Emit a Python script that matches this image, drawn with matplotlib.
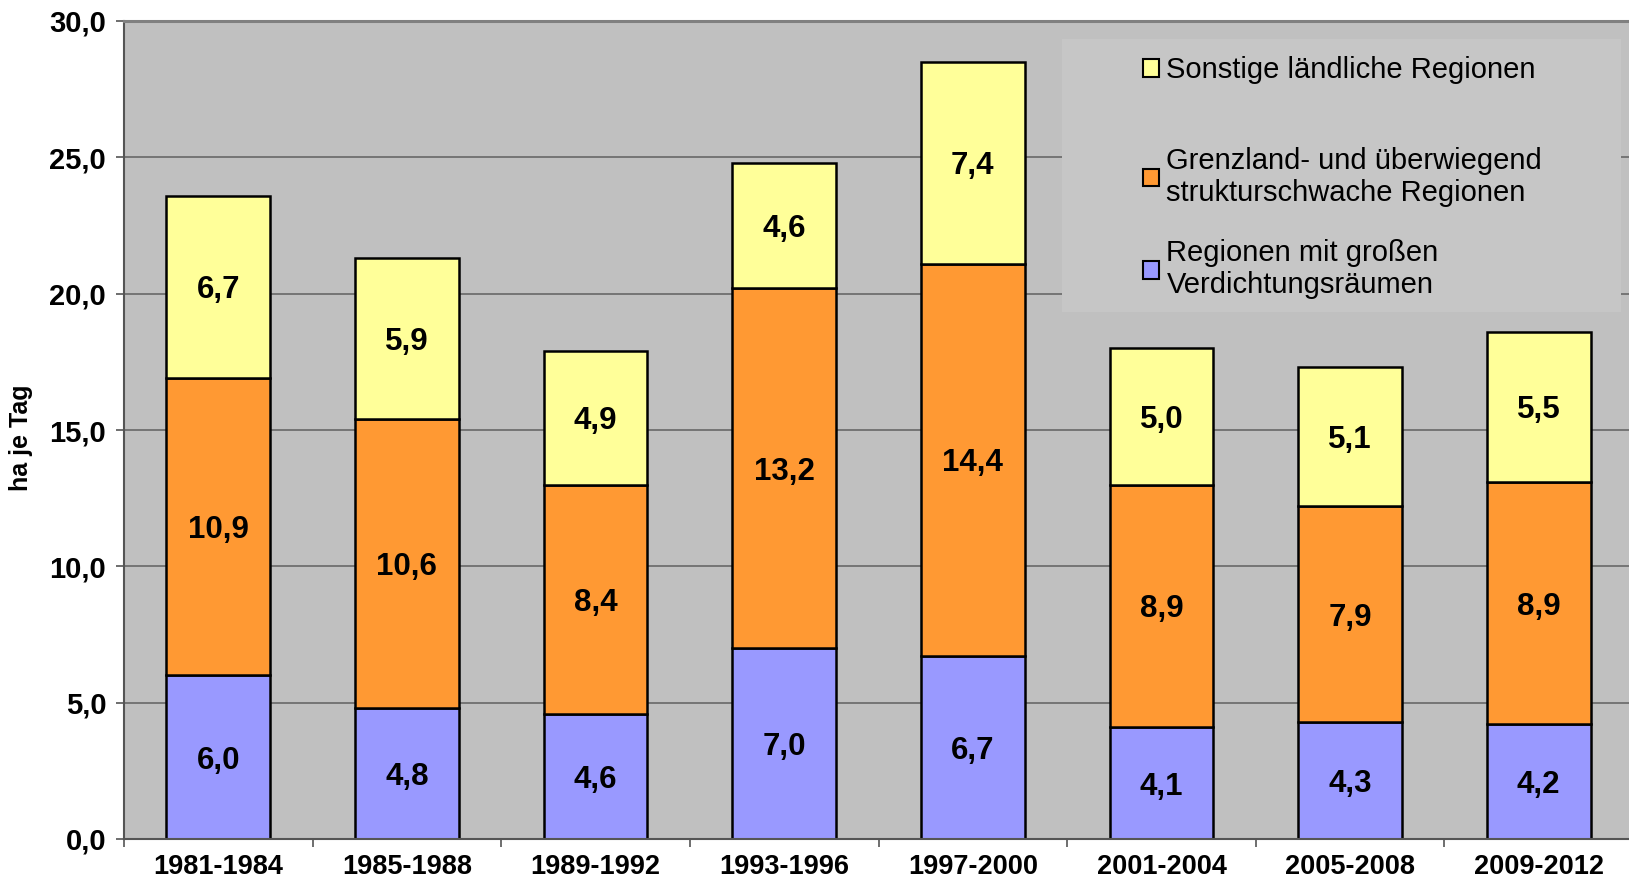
import numpy as np
import matplotlib.pyplot as plt
from matplotlib.patches import Rectangle

plt.rcParams['font.family'] = ['Liberation Sans', 'DejaVu Sans']

# Flächeninanspruchnahme, ha je Tag
periods = ['1981-1984', '1985-1988', '1989-1992', '1993-1996',
           '1997-2000', '2001-2004', '2005-2008', '2009-2012']
verdichtung = [6.0, 4.8, 4.6, 7.0, 6.7, 4.1, 4.3, 4.2]
grenzland = [10.9, 10.6, 8.4, 13.2, 14.4, 8.9, 7.9, 8.9]
sonstige = [6.7, 5.9, 4.9, 4.6, 7.4, 5.0, 5.1, 5.5]

lab_sonst = 'Sonstige ländliche Regionen'
lab_grenz = 'Grenzland- und überwiegend\nstrukturschwache Regionen'
lab_verd = 'Regionen mit großen\nVerdichtungsräumen'

col_verd = '#9999ff'
col_grenz = '#ff9933'
col_sonst = '#ffff99'


def de(v):
    return ('%.1f' % v).replace('.', ',')


fig = plt.figure(figsize=(16.29, 8.82), dpi=100)
ax = fig.add_axes([124 / 1629, 43 / 882, 1509 / 1629, 818 / 882])
ax.set_facecolor('#c0c0c0')

x = np.arange(len(periods))
b1 = np.array(verdichtung)
b2 = b1 + np.array(grenzland)

bw = 0.55
kw = dict(edgecolor='black', linewidth=1.8, zorder=2)
c1 = ax.bar(x, verdichtung, bw, color=col_verd, label=lab_verd, **kw)
c2 = ax.bar(x, grenzland, bw, bottom=b1, color=col_grenz, label=lab_grenz, **kw)
c3 = ax.bar(x, sonstige, bw, bottom=b2, color=col_sonst, label=lab_sonst, **kw)

for c, vals in ((c1, verdichtung), (c2, grenzland), (c3, sonstige)):
    txts = ax.bar_label(c, labels=[de(v) for v in vals], label_type='center',
                        fontsize=22.5, fontweight='bold', color='black')
    for t in txts:
        t.set_va('center_baseline')

ax.set_xlim(-0.5, 7.5)
ax.set_ylim(0, 30)

ax.set_xticks(x)
ax.set_xticklabels(periods, fontsize=19.5, fontweight='bold')
ax.set_xticks(np.arange(-0.5, len(periods), 1), minor=True)
ax.tick_params(axis='x', which='major', length=0, pad=11)
ax.tick_params(axis='x', which='minor', length=5.8, width=1.2, color='#555555')

yt = np.arange(0, 31, 5)
ax.set_yticks(yt)
ax.set_yticklabels([de(v) for v in yt], fontsize=21, fontweight='bold')
ax.tick_params(axis='y', length=5.8, width=1.2, color='#555555', pad=7)

ax.yaxis.grid(True, color='#606060', linewidth=1.1)
ax.set_axisbelow(True)

ax.set_ylabel('ha je Tag', fontsize=18, fontweight='bold')
ax.yaxis.set_label_coords(-0.060, 0.49)

ax.spines['right'].set_visible(False)
ax.spines['top'].set_color('#808080')
ax.spines['top'].set_linewidth(2.2)
for s in ('left', 'bottom'):
    ax.spines[s].set_color('#555555')
    ax.spines[s].set_linewidth(1.5)

# lighter legend area, covers the grid lines
ax.add_patch(Rectangle((0.6216, 0.644), 0.3704, 0.334, transform=ax.transAxes,
                       facecolor='#c6c6c6', edgecolor='none', zorder=0.8))

lkw = dict(frameon=False, fontsize=21, handlelength=0.55, handleheight=0.55,
           handletextpad=0.27, borderpad=0, borderaxespad=0, loc='center left')
leg1 = ax.legend([c3], [lab_sonst], bbox_to_anchor=(0.675, 0.94), **lkw)
for h in leg1.legend_handles:
    h.set_linewidth(1.5)
ax.add_artist(leg1)
leg2 = ax.legend([c2, c1], [lab_grenz, lab_verd], bbox_to_anchor=(0.675, 0.753),
                 labelspacing=1.1, **lkw)
for h in leg2.legend_handles:
    h.set_linewidth(1.5)

fig.savefig('out.png', dpi=100)
